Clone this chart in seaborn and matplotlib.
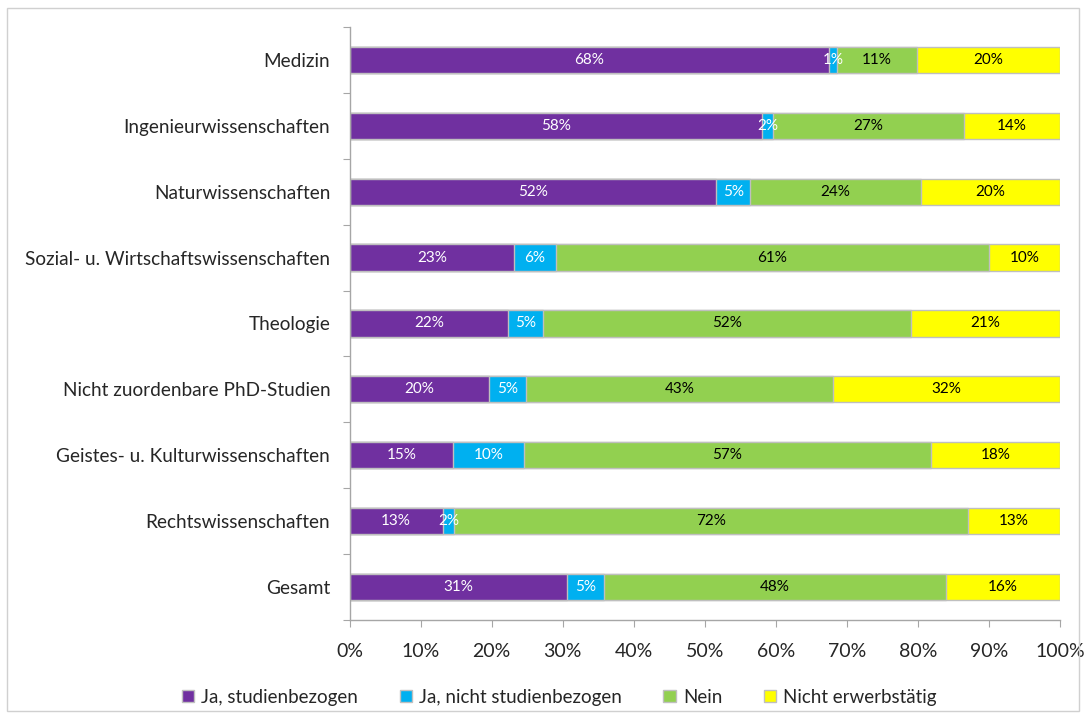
import pandas as pd
import matplotlib.pyplot as plt
import seaborn as sns
from matplotlib.patches import Patch, Rectangle
from matplotlib.ticker import PercentFormatter

# data (shares in percent)
faecher = ['Medizin', 'Ingenieurwissenschaften', 'Naturwissenschaften',
           'Sozial- u. Wirtschaftswissenschaften', 'Theologie',
           'Nicht zuordenbare PhD-Studien', 'Geistes- u. Kulturwissenschaften',
           'Rechtswissenschaften', 'Gesamt']
ja_studienbezogen = [67.5, 58.0, 51.6, 23.2, 22.3, 19.6, 14.6, 13.1, 30.6]
ja_nicht_studienbezogen = [1.1, 1.6, 4.8, 5.8, 4.9, 5.2, 10.0, 1.6, 5.2]
nein = [11.3, 26.9, 24.0, 61.0, 51.8, 43.2, 57.2, 72.3, 48.2]
nicht_erwerbstaetig = [20.1, 13.5, 19.6, 10.0, 21.0, 32.0, 18.2, 13.0, 16.0]

serien = ['Ja, studienbezogen', 'Ja, nicht studienbezogen', 'Nein', 'Nicht erwerbstätig']
farben = ['#7030A0', '#00B0F0', '#92D050', '#FFFF00']
textfarben = ['white', 'white', 'black', 'black']

df = pd.DataFrame({serien[0]: ja_studienbezogen, serien[1]: ja_nicht_studienbezogen,
                   serien[2]: nein, serien[3]: nicht_erwerbstaetig}, index=faecher)
cum = df.cumsum(axis=1)

sns.set_style('white')
plt.rcParams['font.family'] = ['Lato', 'DejaVu Sans']

fig = plt.figure(figsize=(10.86, 7.14), dpi=100)
ax = fig.add_axes([0.322, 0.132, 0.654, 0.830])

# stacked bars: draw cumulative totals from the largest down
for s, c in reversed(list(zip(serien, farben))):
    sns.barplot(x=cum[s].values, y=faecher, color=c, saturation=1, orient='h',
                width=0.4, edgecolor='#BFBFBF', linewidth=1, ax=ax)

# segment labels
for i, f in enumerate(faecher):
    for s, tc in zip(serien, textfarben):
        v = df.loc[f, s]
        mid = cum.loc[f, s] - v / 2
        ax.text(mid, i, f'{v:.0f}%', ha='center', va='center', color=tc, fontsize=11)

ax.set_xlim(0, 100)
ax.set_ylim(len(faecher) - 0.5, -0.5)
ax.set_xticks(range(0, 101, 10))
ax.xaxis.set_major_formatter(PercentFormatter(decimals=0))
ax.set_yticks([i - 0.5 for i in range(len(faecher) + 1)], minor=False)
ax.set_yticklabels([])
ax.set_yticks(range(len(faecher)), minor=True)
ax.set_yticklabels(faecher, minor=True)
ax.tick_params(axis='y', which='minor', length=0, labelsize=13.7, pad=14)
ax.tick_params(axis='y', which='major', length=5, color='#A6A6A6', direction='out', left=True)
ax.tick_params(axis='x', length=5, color='#A6A6A6', direction='out', bottom=True,
               labelsize=14, pad=12)
ax.set_xlabel('')
ax.set_ylabel('')
for sp in ['top', 'right']:
    ax.spines[sp].set_visible(False)
for sp in ['left', 'bottom']:
    ax.spines[sp].set_color('#A6A6A6')
    ax.spines[sp].set_linewidth(1)

handles = [Patch(facecolor=c, edgecolor='#BFBFBF', label=s) for s, c in zip(serien, farben)]
fig.legend(handles=handles, loc='lower center', bbox_to_anchor=(0.515, -0.012), ncol=4,
           frameon=False, fontsize=13.5, handlelength=0.65, handleheight=0.65,
           handletextpad=0.4, columnspacing=2.2)

# thin frame around the whole chart
fig.patches.append(Rectangle((0.006, 0.004), 0.988, 0.985, transform=fig.transFigure,
                             fill=False, edgecolor='#D0D0D0', linewidth=1))

fig.savefig('out.png', dpi=100)
